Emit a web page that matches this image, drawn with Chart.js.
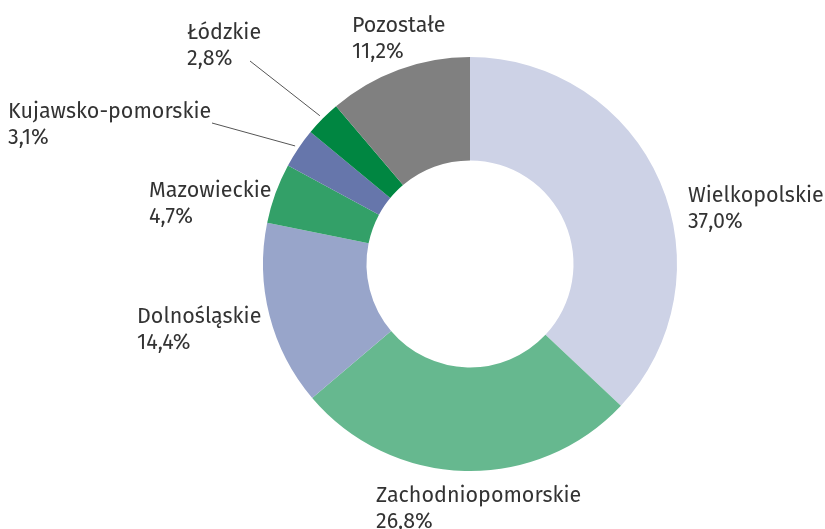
<!DOCTYPE html>
<html>
<head>
<meta charset="utf-8">
<script src="https://cdn.jsdelivr.net/npm/chart.js@4"></script>
<style>
    html, body { margin: 0; padding: 0; background: #ffffff; }
    #wrap { position: relative; width: 825px; height: 529px; }
</style>
</head>
<body>
<div id="wrap"><canvas id="chart"></canvas></div>
<script>
const regions = ['Wielkopolskie', 'Zachodniopomorskie', 'Dolnośląskie', 'Mazowieckie', 'Kujawsko-pomorskie', 'Łódzkie', 'Pozostałe'];
const shares = [37.0, 26.8, 14.4, 4.7, 3.1, 2.8, 11.2];
const sliceColors = ['#cdd2e6', '#66b88f', '#98a5ca', '#33a068', '#6676ab', '#008641', '#808080'];

// label placement relative to the doughnut centre (first line baseline)
const labelLayout = [
    { dx: 218, dy: -62 },
    { dx: -94, dy: 238 },
    { dx: -333, dy: 59 },
    { dx: -321, dy: -67 },
    { dx: -462, dy: -146, line: { dx: -258, dy: -141 } },
    { dx: -283, dy: -225, line: { dx: -220, dy: -203 } },
    { dx: -118, dy: -232 }
];

function formatShare(v) {
    return v.toFixed(1).replace('.', ',') + '%';
}

const sliceLabels = {
    id: 'sliceLabels',
    afterDatasetsDraw(chart) {
        const ctx = chart.ctx;
        const arcs = chart.getDatasetMeta(0).data;
        if (!arcs.length) return;
        const cx = arcs[0].x;
        const cy = arcs[0].y;

        ctx.save();
        ctx.font = '21.5px "Fira Sans", "Open Sans", sans-serif';
        ctx.fillStyle = '#333333';
        ctx.textAlign = 'left';
        ctx.textBaseline = 'alphabetic';

        arcs.forEach((arc, i) => {
            const pos = labelLayout[i];
            const x = cx + pos.dx;
            const y = cy + pos.dy;
            ctx.fillText(regions[i], x, y);
            ctx.fillText(formatShare(shares[i]), x, y + 25.5);

            if (pos.line) {
                const mid = (arc.startAngle + arc.endAngle) / 2;
                const r = arc.outerRadius + 4;
                ctx.beginPath();
                ctx.strokeStyle = '#555555';
                ctx.lineWidth = 1;
                ctx.moveTo(cx + pos.line.dx, cy + pos.line.dy);
                ctx.lineTo(cx + Math.cos(mid) * r, cy + Math.sin(mid) * r);
                ctx.stroke();
            }
        });
        ctx.restore();
    }
};

new Chart(document.getElementById('chart'), {
    type: 'doughnut',
    data: {
        labels: regions,
        datasets: [{
            data: shares,
            backgroundColor: sliceColors,
            borderWidth: 0
        }]
    },
    options: {
        responsive: true,
        maintainAspectRatio: false,
        animation: false,
        cutout: '50%',
        layout: {
            padding: { top: 57, bottom: 58, left: 200, right: 85 }
        },
        plugins: {
            legend: { display: false },
            tooltip: { enabled: false }
        }
    },
    plugins: [sliceLabels]
});
</script>
</body>
</html>
